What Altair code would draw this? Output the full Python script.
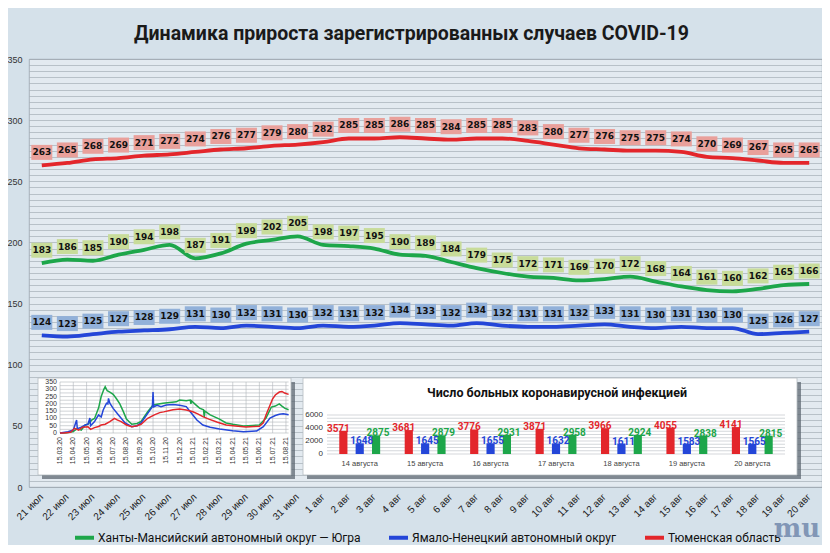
import altair as alt
import pandas as pd

HMAO = "Ханты-Мансийский автономный округ — Югра"
YANAO = "Ямало-Ненецкий автономный округ"
TYUM = "Тюменская область"

# main chart: 21 июл - 20 авг
dates = ["21 июл", "22 июл", "23 июл", "24 июл", "25 июл", "26 июл", "27 июл", "28 июл",
         "29 июл", "30 июл", "31 июл", "1 авг", "2 авг", "3 авг", "4 авг", "5 авг", "6 авг",
         "7 авг", "8 авг", "9 авг", "10 авг", "11 авг", "12 авг", "13 авг", "14 авг", "15 авг",
         "16 авг", "17 авг", "18 авг", "19 авг", "20 авг"]
tyumen = [263, 265, 268, 269, 271, 272, 274, 276, 277, 279, 280, 282, 285, 285, 286, 285,
          284, 285, 285, 283, 280, 277, 276, 275, 275, 274, 270, 269, 267, 265, 265]
hmao = [183, 186, 185, 190, 194, 198, 187, 191, 199, 202, 205, 198, 197, 195, 190, 189,
        184, 179, 175, 172, 171, 169, 170, 172, 168, 164, 161, 160, 162, 165, 166]
yanao = [124, 123, 125, 127, 128, 129, 131, 130, 132, 131, 130, 132, 131, 132, 134, 133,
         132, 134, 132, 131, 131, 132, 133, 131, 130, 131, 130, 130, 125, 126, 127]
main_y_ticks = list(range(0, 351, 5))

# left inset: whole epidemic, x = months since 15.03.20
hist_ticks = ["15.03.20", "15.04.20", "15.05.20", "15.06.20", "15.07.20", "15.08.20",
              "15.09.20", "15.10.20", "15.11.20", "15.12.20", "15.01.21", "15.02.21",
              "15.03.21", "15.04.21", "15.05.21", "15.06.21", "15.07.21", "15.08.21"]
hist_y_ticks = list(range(0, 351, 25))
hmao_m = [0, 0.5, 1.0, 1.3, 1.6, 1.9, 2.1, 2.4, 2.6, 2.9, 3.1, 3.3, 3.4, 3.55, 3.75, 4.0,
          4.25, 4.5, 4.75, 5.0, 5.4, 5.8, 6.1, 6.6, 7.0, 7.4, 7.75, 8.25, 8.75, 9.0, 9.5,
          9.8, 9.85, 9.9, 10.2, 10.5, 10.8, 10.85, 10.9, 11.3, 12.0, 12.5, 13.0, 13.8,
          14.5, 15.0, 15.5, 15.9, 16.2, 16.5, 16.7, 16.9, 17.2]
hmao_v = [0, 2, 10, 30, 20, 55, 60, 90, 100, 171, 250, 300, 318, 290, 280, 265,
          235, 200, 150, 95, 60, 65, 80, 146, 192, 199, 204, 210, 214, 226, 222,
          226, 200, 220, 195, 171, 160, 110, 150, 124, 95, 69, 60, 48,
          52, 55, 103, 178, 185, 200, 185, 171, 160]
tyum_m = [0, 0.3, 0.8, 1.1, 1.4, 1.7, 2.1, 2.3, 2.6, 2.9, 3.1, 3.4, 3.75, 4.1, 4.3, 4.6,
          5.0, 5.4, 5.8, 6.1, 6.6, 7.1, 7.5, 7.8, 8.5, 9.0, 9.5, 10.0, 10.4, 10.75, 11.2,
          11.8, 12.5, 13.2, 14.0, 14.6, 15.0, 15.3, 15.5, 15.8, 16.0, 16.2, 16.5, 16.7,
          16.9, 17.2]
tyum_v = [0, 0, 5, 32, 20, 40, 43, 25, 37, 45, 55, 60, 78, 101, 90, 78,
          55, 43, 50, 60, 101, 124, 140, 145, 160, 165, 158, 146, 130, 112, 95,
          75, 55, 48, 41, 45, 46, 70, 124, 190, 235, 261, 281, 285,
          274, 265]
yanao_m = [0, 0.6, 1.0, 1.25, 1.3, 1.6, 1.9, 2.1, 2.25, 2.3, 2.6, 2.9, 3.1, 3.25, 3.5,
           3.6, 3.65, 3.75, 4.0, 4.4, 4.9, 5.4, 5.8, 6.1, 6.6, 6.95, 7.0, 7.05, 7.3, 7.6,
           8.0, 8.5, 9.0, 9.5, 9.8, 10.3, 10.75, 11.3, 12.0, 13.0, 13.8, 14.8, 15.3, 15.8,
           16.2, 16.5, 16.8, 17.2]
yanao_v = [0, 9, 20, 89, 30, 40, 55, 60, 103, 50, 78, 124, 110, 158, 204,
           200, 237, 204, 169, 124, 69, 43, 50, 69, 135, 180, 282, 180, 190, 181,
           192, 196, 190, 181, 146, 89, 55, 40, 27, 15, 9, 14, 43, 103,
           120, 128, 132, 125]

# right inset: number of patients
bar_days = ["14 августа", "15 августа", "16 августа", "17 августа", "18 августа",
            "19 августа", "20 августа"]
bar_tyum = [3571, 3681, 3776, 3871, 3966, 4055, 4141]
bar_yanao = [1648, 1645, 1655, 1632, 1611, 1583, 1565]
bar_hmao = [2875, 2879, 2931, 2958, 2924, 2838, 2815]
bar_y_ticks = list(range(0, 6001, 500))

regions = [HMAO, YANAO, TYUM]
region_colors = ["#1da64a", "#2446d8", "#e3262b"]
color = alt.Color("region:N", scale=alt.Scale(domain=regions, range=region_colors),
                  legend=alt.Legend(orient="none", legendX=44, legendY=467, direction="horizontal",
                                    title=None, symbolType="stroke", symbolStrokeWidth=4,
                                    symbolSize=361, labelFont="Roboto", labelFontSize=12,
                                    labelColor="#111", labelOffset=2, columnPadding=20,
                                    labelLimit=400))

rows = []
for name, vals, box in [(TYUM, tyumen, "#e9a09b"), (HMAO, hmao, "#c8dc9a"), (YANAO, yanao, "#92b1d9")]:
    for d, v in zip(dates, vals):
        rows.append({"date": d, "region": name, "value": v, "box": box})
main_df = pd.DataFrame(rows)

x_main = alt.X("date:N", sort=dates, title=None,
               scale=alt.Scale(type="band", paddingInner=0, paddingOuter=0),
               axis=alt.Axis(bandPosition=0, labelOffset=0, labelAngle=315, labelAlign="right",
                             labelBaseline="middle", labelPadding=8, ticks=False, domain=False,
                             labelFont="Liberation Sans", labelFontSize=10, labelColor="#222",
                             gridColor="#9aa5ad", gridWidth=0.7))
y_main = alt.Y("value:Q", title=None, scale=alt.Scale(domain=[0, 350], nice=False),
               axis=alt.Axis(values=main_y_ticks, labelExpr="datum.value % 50 === 0 ? datum.label : ''",
                             ticks=False, domain=False, labelFont="Liberation Sans", labelFontSize=9,
                             labelColor="#333", labelPadding=7, gridColor="#9aa5ad", gridWidth=0.6))

base = alt.Chart(main_df)
lines = base.mark_line(strokeWidth=3.8, interpolate="monotone").encode(x=x_main, y=y_main, color=color)
boxes = base.mark_point(shape="M-1,-0.714L1,-0.714L1,0.714L-1,0.714Z", size=441, filled=True,
                        opacity=1, strokeWidth=0, yOffset=-13).encode(
    x=x_main, y=y_main, fill=alt.Fill("box:N", scale=None))
texts = base.mark_text(font="DejaVu Sans", fontSize=9, fontWeight="bold", color="#111",
                       yOffset=-13, baseline="middle").encode(
    x=x_main, y=y_main, text=alt.Text("value:Q", format="d"))
main = alt.layer(lines, boxes, texts)

one = pd.DataFrame({"a": [0]})

# ---- left inset
xs_l = alt.Scale(domain=[0, 17.2], range=[31, 259.6], nice=False, zero=False)
ys_l = alt.Scale(domain=[0, 350], range=[374, 323], nice=False)
hist_rows = []
for name, ms, vs in [(HMAO, hmao_m, hmao_v), (YANAO, yanao_m, yanao_v), (TYUM, tyum_m, tyum_v)]:
    for m, v in zip(ms, vs):
        hist_rows.append({"region": name, "m": m, "v": v})
hist_df = pd.DataFrame(hist_rows)
hist_grid = pd.DataFrame({"g": hist_y_ticks})
hist_xt = pd.DataFrame({"m": list(range(len(hist_ticks))), "lbl": hist_ticks})

l_shadow = alt.Chart(one).mark_rect(color="#56606a", opacity=0.7).encode(
    x=alt.value(13), x2=alt.value(266), y=alt.value(323), y2=alt.value(420))
l_box = alt.Chart(one).mark_rect(color="white", stroke="#b5bcc2", strokeWidth=0.8).encode(
    x=alt.value(9), x2=alt.value(262), y=alt.value(319), y2=alt.value(416))
l_hgrid = alt.Chart(hist_grid).mark_rule(color="#b0b6bb", strokeWidth=0.6).encode(
    x=alt.value(31), x2=alt.value(259.6), y=alt.Y("g:Q", scale=ys_l, axis=None))
l_vgrid = alt.Chart(hist_xt).mark_rule(color="#b0b6bb", strokeWidth=0.6).encode(
    x=alt.X("m:Q", scale=xs_l, axis=None), y=alt.value(323), y2=alt.value(374))
l_lines = alt.Chart(hist_df).mark_line(strokeWidth=1.5).encode(
    x=alt.X("m:Q", scale=xs_l, axis=None), y=alt.Y("v:Q", scale=ys_l, axis=None),
    color=color, detail="region:N")
l_ylab = alt.Chart(hist_grid).transform_filter("datum.g % 50 === 0").mark_text(
    align="right", baseline="middle", fontSize=7, font="Liberation Sans", color="#333").encode(
    x=alt.value(28), y=alt.Y("g:Q", scale=ys_l, axis=None), text="g:Q")
l_xlab = alt.Chart(hist_xt).mark_text(
    angle=270, align="right", baseline="middle", fontSize=7, font="Liberation Sans", color="#333").encode(
    x=alt.X("m:Q", scale=xs_l, axis=None), y=alt.value(378), text="lbl:N")
left_inset = alt.layer(l_shadow, l_box, l_hgrid, l_vgrid, l_lines, l_ylab, l_xlab)

# ---- right inset
xs_r = alt.Scale(domain=bar_days, range=[298, 756], paddingInner=0.25, paddingOuter=0.125)
ys_r = alt.Scale(domain=[0, 6000], range=[395, 356], nice=False)
off = alt.Scale(domain=[TYUM, YANAO, HMAO], paddingInner=0.5, paddingOuter=0.25)
bar_rows = []
for name, vals in [(TYUM, bar_tyum), (YANAO, bar_yanao), (HMAO, bar_hmao)]:
    for d, v in zip(bar_days, vals):
        bar_rows.append({"day": d, "region": name, "value": v})
bar_df = pd.DataFrame(bar_rows)
bar_grid = pd.DataFrame({"g": bar_y_ticks})
bar_xr = alt.X("day:N", sort=bar_days, scale=xs_r, axis=None)

r_shadow = alt.Chart(one).mark_rect(color="#56606a", opacity=0.7).encode(
    x=alt.value(278), x2=alt.value(772), y=alt.value(323), y2=alt.value(420))
r_box = alt.Chart(one).mark_rect(color="white", stroke="#b5bcc2", strokeWidth=0.8).encode(
    x=alt.value(274), x2=alt.value(768), y=alt.value(319), y2=alt.value(416))
r_title = alt.Chart(one).mark_text(font="Roboto", fontSize=12.5, fontWeight="bold", color="#111",
                                   baseline="middle").encode(
    x=alt.value(528), y=alt.value(334), text=alt.value("Число больных коронавирусной  инфекцией"))
r_hgrid = alt.Chart(bar_grid).mark_rule(color="#b8bdc2", strokeWidth=0.6).encode(
    x=alt.value(298), x2=alt.value(756), y=alt.Y("g:Q", scale=ys_r, axis=None))
r_bars = alt.Chart(bar_df).mark_bar().encode(
    x=bar_xr, xOffset=alt.XOffset("region:N", scale=off),
    y=alt.Y("value:Q", scale=ys_r, axis=None), color=color)
r_lab_red = alt.Chart(bar_df).transform_filter(alt.datum.region == TYUM).mark_text(
    font="Roboto", fontSize=10, fontWeight="bold", baseline="alphabetic", dx=-5, dy=1).encode(
    x=bar_xr, xOffset=alt.XOffset("region:N", scale=off),
    y=alt.Y("value:Q", scale=ys_r, axis=None), color=color, text=alt.Text("value:Q", format="d"))
r_lab_other = alt.Chart(bar_df).transform_filter(alt.datum.region != TYUM).mark_text(
    font="Roboto", fontSize=10, fontWeight="bold", baseline="alphabetic", dx=2, dy=1).encode(
    x=bar_xr, xOffset=alt.XOffset("region:N", scale=off),
    y=alt.Y("value:Q", scale=ys_r, axis=None), color=color, text=alt.Text("value:Q", format="d"))
r_ylab = alt.Chart(bar_grid).transform_filter("datum.g % 2000 === 0").mark_text(
    align="right", baseline="middle", fontSize=8, font="Liberation Sans", color="#333").encode(
    x=alt.value(294), y=alt.Y("g:Q", scale=ys_r, axis=None), text="g:Q")
r_xlab = alt.Chart(pd.DataFrame({"day": bar_days})).mark_text(
    baseline="middle", fontSize=7.5, font="Liberation Sans", color="#444").encode(
    x=bar_xr, y=alt.value(405), text="day:N")
right_inset = alt.layer(r_shadow, r_box, r_title, r_hgrid, r_bars, r_lab_red, r_lab_other, r_ylab, r_xlab)

logo = alt.Chart(one).mark_text(font="DejaVu Serif", fontSize=26, fontWeight="bold", color="#8196b6",
                                baseline="middle").encode(
    x=alt.value(768), y=alt.value(470), text=alt.value("mu"))

chart = alt.layer(main, left_inset, right_inset, logo).resolve_scale(
    x="independent", y="independent"
).properties(
    width=793, height=428,
    autosize=alt.AutoSizeParams(type="none"),
    padding={"left": 21, "top": 51, "right": 0, "bottom": 58},
    title=alt.TitleParams("Динамика прироста зарегистрированных случаев COVID-19",
                          font="Roboto", fontSize=19.5, fontWeight="bold", color="#1a1a1a",
                          anchor="middle", dx=-14, offset=11),
).configure(background="#d5e1ea").configure_view(fill="#e3eaf0", stroke="#9aa5ad", strokeWidth=0.8)

chart.save("out.html", embed_options={"renderer": "svg", "actions": False})
